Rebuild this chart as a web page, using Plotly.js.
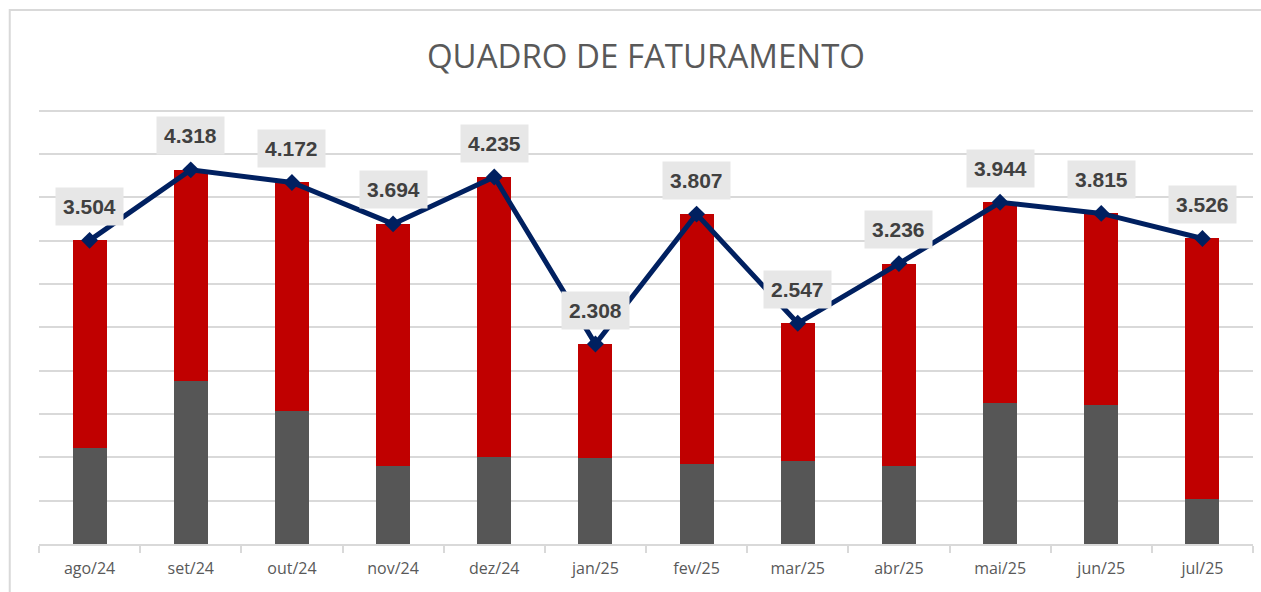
<!DOCTYPE html>
<html>
<head>
<meta charset="utf-8">
<script src="https://cdn.plot.ly/plotly-3.0.1.min.js"></script>
<style>
  html, body { margin: 0; padding: 0; background: #ffffff; }
  #chart { width: 1261px; height: 592px; }
</style>
</head>
<body>
<div id="chart"></div>
<script>
// Data
const categories = ["ago/24", "set/24", "out/24", "nov/24", "dez/24", "jan/25",
                    "fev/25", "mar/25", "abr/25", "mai/25", "jun/25", "jul/25"];
const grayValues  = [1112, 1883, 1540, 905, 1008, 997, 920, 962, 905, 1632, 1605, 520];
const redValues   = [2392, 2435, 2632, 2789, 3227, 1311, 2887, 1585, 2331, 2312, 2210, 3006];
const totalValues = [3504, 4318, 4172, 3694, 4235, 2308, 3807, 2547, 3236, 3944, 3815, 3526];
const totalLabels = ["3.504", "4.318", "4.172", "3.694", "4.235", "2.308",
                     "3.807", "2.547", "3.236", "3.944", "3.815", "3.526"];

const traces = [
  {
    type: "bar", x: categories, y: grayValues,
    marker: { color: "#565656" }, hoverinfo: "skip", showlegend: false
  },
  {
    type: "bar", x: categories, y: redValues,
    marker: { color: "#C00000" }, hoverinfo: "skip", showlegend: false
  },
  {
    type: "scatter", mode: "lines+markers", x: categories, y: totalValues,
    line: { color: "#002060", width: 5 },
    marker: { symbol: "diamond", size: 13, color: "#002060" },
    hoverinfo: "skip", showlegend: false, cliponaxis: false
  }
];

const annotations = categories.map((c, i) => ({
  x: c, y: totalValues[i], xref: "x", yref: "y",
  text: totalLabels[i], showarrow: false, yshift: 34,
  font: { family: "Liberation Sans, Arial, sans-serif", size: 21, color: "#404040", weight: "bold" },
  bgcolor: "#E7E7E7", borderpad: 7
}));

const layout = {
  width: 1261, height: 592,
  margin: { l: 39, r: 8, t: 109, b: 48 },
  paper_bgcolor: "#ffffff", plot_bgcolor: "#ffffff",
  barmode: "stack", bargap: 0.664,
  showlegend: false,
  title: {
    text: "QUADRO DE FATURAMENTO",
    font: { family: "Open Sans, sans-serif", size: 33, color: "#595959" },
    x: 0.5, xref: "paper", y: 0.905, yref: "container", yanchor: "middle"
  },
  xaxis: {
    type: "category", range: [-0.5, 11.5], autorange: false,
    showline: true, linecolor: "#D9D9D9", linewidth: 2,
    ticks: "outside", tickson: "boundaries", ticklen: 7, tickcolor: "#D9D9D9", tickwidth: 2,
    ticklabelstandoff: 9,
    tickfont: { family: "Open Sans, sans-serif", size: 16, color: "#595959" },
    showgrid: false, zeroline: false, fixedrange: true
  },
  yaxis: {
    range: [0, 5020], autorange: false, dtick: 500, tick0: 0,
    showticklabels: false, ticks: "",
    showgrid: true, gridcolor: "#D9D9D9", gridwidth: 2,
    zeroline: false, showline: false, fixedrange: true
  },
  annotations: annotations,
  shapes: [
    {
      type: "rect", xref: "paper", yref: "paper",
      x0: -0.0241, x1: 1.05, y0: -0.3, y1: 1.2278,
      line: { color: "#D9D9D9", width: 2 }, fillcolor: "rgba(0,0,0,0)", layer: "below"
    }
  ]
};

Plotly.newPlot("chart", traces, layout, { displayModeBar: false, staticPlot: true });
</script>
</body>
</html>
